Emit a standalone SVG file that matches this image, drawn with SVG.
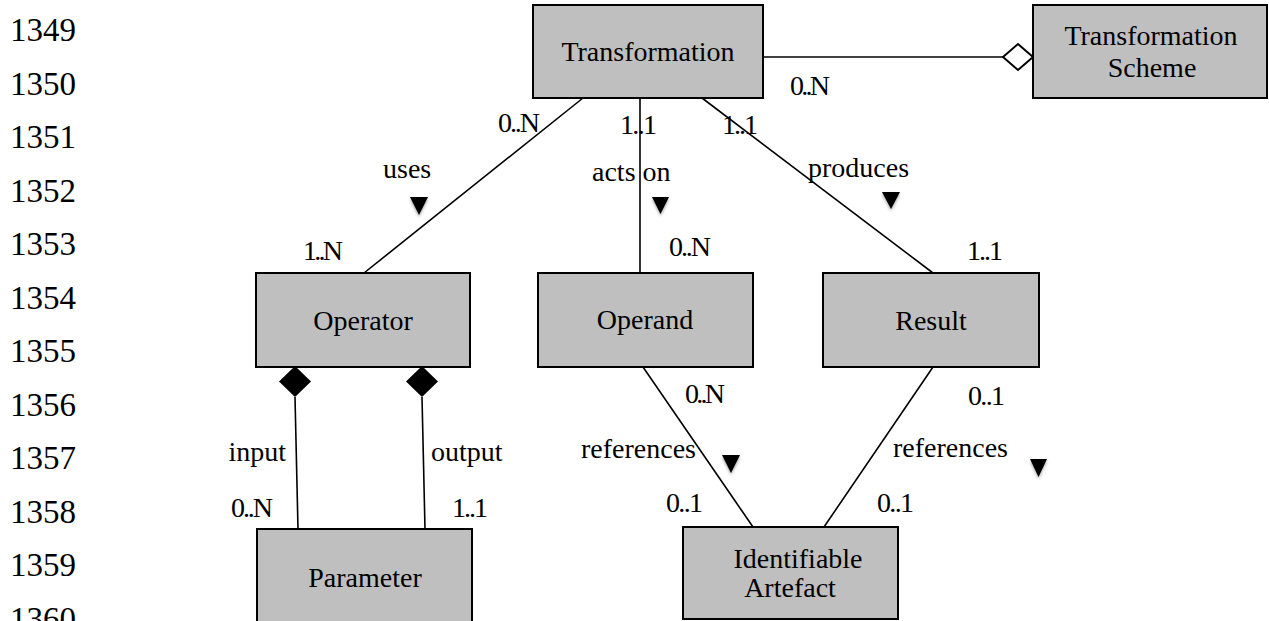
<svg xmlns="http://www.w3.org/2000/svg" width="1269" height="621" viewBox="0 0 1269 621">
  <style>
    text { font-family: "Liberation Serif", "Times New Roman", serif; fill: #000; }
    .lbl { font-size: 28px; }
    .name { font-size: 28px; text-anchor: middle; }
    .ln { font-size: 33px; }
    .box { fill: #bfbfbf; stroke: #000; stroke-width: 2; }
    .edge { stroke: #000; stroke-width: 1.6; fill: none; }
    .tri { fill: #000; filter: url(#soft); }
  </style>
  <defs>
    <filter id="soft" x="-50%" y="-50%" width="200%" height="200%">
      <feGaussianBlur in="SourceAlpha" stdDeviation="1.6"/>
      <feOffset dx="0" dy="2" result="b"/>
      <feComponentTransfer><feFuncA type="linear" slope="0.35"/></feComponentTransfer>
      <feMerge><feMergeNode/><feMergeNode in="SourceGraphic"/></feMerge>
    </filter>
  </defs>

  <!-- line numbers in the margin -->
  <g id="line-numbers" class="ln">
    <text x="10" y="41">1349</text>
    <text x="10" y="94.5">1350</text>
    <text x="10" y="148">1351</text>
    <text x="10" y="201.5">1352</text>
    <text x="10" y="255">1353</text>
    <text x="10" y="308.5">1354</text>
    <text x="10" y="362">1355</text>
    <text x="10" y="415.5">1356</text>
    <text x="10" y="469">1357</text>
    <text x="10" y="522.5">1358</text>
    <text x="10" y="576">1359</text>
    <text x="10" y="629.5">1360</text>
  </g>

  <!-- associations -->
  <g id="connectors">
    <line class="edge" x1="763" y1="57" x2="1003" y2="57"/>
    <polygon points="1003,57 1018,44 1033,57 1018,70" fill="#fff" stroke="#000" stroke-width="2"/>
    <line class="edge" x1="583" y1="98" x2="364" y2="273"/>
    <line class="edge" x1="640" y1="98" x2="640" y2="273"/>
    <line class="edge" x1="702" y1="98" x2="933" y2="273"/>
    <line class="edge" x1="643" y1="367" x2="753" y2="527"/>
    <line class="edge" x1="933" y1="367" x2="824" y2="527"/>
    <line class="edge" x1="295" y1="397" x2="298" y2="529"/>
    <line class="edge" x1="422" y1="397" x2="425" y2="529"/>
    <polygon points="295,366 311,381.5 295,397 279,381.5" fill="#000"/>
    <polygon points="422,366 438,381.5 422,397 406,381.5" fill="#000"/>

    <!-- role names, multiplicities and reading-direction markers -->
    <g class="lbl">
      <text x="790" y="95" textLength="40" lengthAdjust="spacing">0..N</text>
      <text x="498" y="132" textLength="42" lengthAdjust="spacing">0..N</text>
      <text x="620" y="134" textLength="37" lengthAdjust="spacing">1..1</text>
      <text x="722" y="134" textLength="36" lengthAdjust="spacing">1..1</text>
      <text x="383" y="178">uses</text>
      <text x="592" y="181">acts on</text>
      <text x="808" y="177">produces</text>
      <text x="303" y="260" textLength="40" lengthAdjust="spacing">1..N</text>
      <text x="669" y="256" textLength="42" lengthAdjust="spacing">0..N</text>
      <text x="967" y="260" textLength="36" lengthAdjust="spacing">1..1</text>
      <text x="685" y="403" textLength="40" lengthAdjust="spacing">0..N</text>
      <text x="968" y="405" textLength="37" lengthAdjust="spacing">0..1</text>
      <text x="581" y="458">references</text>
      <text x="893" y="457">references</text>
      <text x="666" y="512" textLength="37" lengthAdjust="spacing">0..1</text>
      <text x="877" y="512" textLength="37" lengthAdjust="spacing">0..1</text>
      <text x="286" y="461" text-anchor="end">input</text>
      <text x="431" y="461">output</text>
      <text x="273" y="517" text-anchor="end" textLength="42" lengthAdjust="spacing">0..N</text>
      <text x="452" y="517" textLength="36" lengthAdjust="spacing">1..1</text>
    </g>
    <polygon class="tri" points="410,197 428,197 419,215"/>
    <polygon class="tri" points="652,197 669,197 660.5,214"/>
    <polygon class="tri" points="882,192 900,192 891,209"/>
    <polygon class="tri" points="722,455 740,455 731,473"/>
    <polygon class="tri" points="1030,459 1047,459 1038.5,477"/>
  </g>

  <g id="transformation">
    <rect class="box" x="533" y="5" width="230" height="93"/>
    <text class="name" x="648" y="61">Transformation</text>
  </g>
  <g id="transformation-scheme">
    <rect class="box" x="1033" y="5" width="234" height="93"/>
    <text class="name" x="1151" y="45">Transformation</text>
    <text class="name" x="1152" y="77">Scheme</text>
  </g>
  <g id="operator">
    <rect class="box" x="256" y="273" width="214" height="94"/>
    <text class="name" x="363" y="330">Operator</text>
  </g>
  <g id="operand">
    <rect class="box" x="538" y="273" width="215" height="94"/>
    <text class="name" x="645" y="329">Operand</text>
  </g>
  <g id="result">
    <rect class="box" x="823" y="273" width="216" height="94"/>
    <text class="name" x="931" y="330">Result</text>
  </g>
  <g id="parameter">
    <rect class="box" x="257" y="529" width="215" height="110"/>
    <text class="name" x="365" y="587">Parameter</text>
  </g>
  <g id="identifiable-artefact">
    <rect class="box" x="683" y="527" width="215" height="92"/>
    <text class="name" x="798" y="568">Identifiable</text>
    <text class="name" x="790" y="597">Artefact</text>
  </g>
</svg>
